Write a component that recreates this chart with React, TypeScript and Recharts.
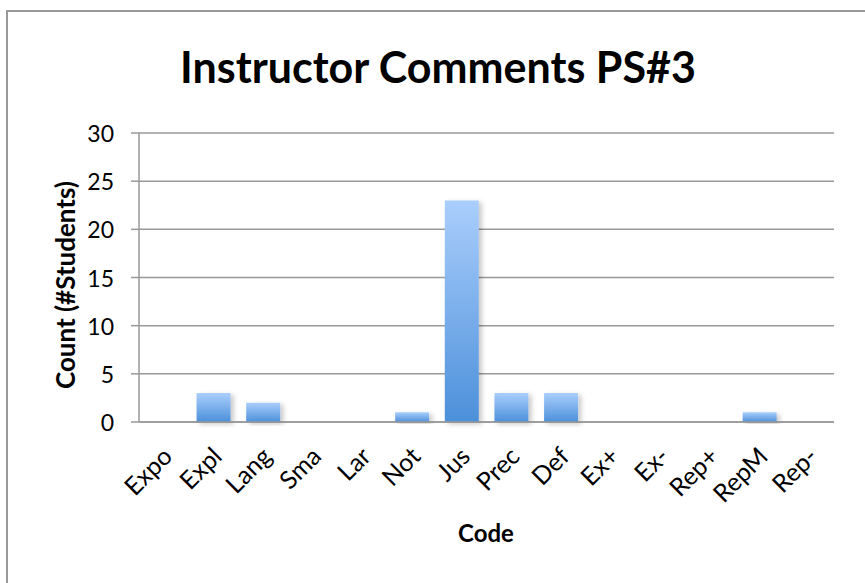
import React from 'react';
import { BarChart, Bar, XAxis, YAxis, CartesianGrid, Label } from 'recharts';

// Comment codes and how many students received each one
const codes = ['Expo', 'Expl', 'Lang', 'Sma', 'Lar', 'Not', 'Jus', 'Prec', 'Def', 'Ex+', 'Ex-', 'Rep+', 'RepM', 'Rep-'];
const counts = [0, 3, 2, 0, 0, 1, 23, 3, 3, 0, 0, 0, 1, 0];
const yTicks = [0, 5, 10, 15, 20, 25, 30];

const data = codes.map((code, i) => ({ code, count: counts[i] }));

const FONT = 'Lato, "Open Sans", sans-serif';
const GRID = '#999999';

// Category labels slanted upward to the right, ending just under each bar
const CodeTick = (props: any) => {
  const { x, y, payload } = props;
  return (
    <g transform={`translate(${x + 10},${y + 36})`}>
      <text transform="rotate(-45)" textAnchor="end" fontSize={25} fontFamily={FONT} fill="#000">
        {payload.value}
      </text>
    </g>
  );
};

// Count labels, right-aligned left of the short tick marks
const CountTick = (props: any) => {
  const { y, payload } = props;
  return (
    <text x={114} y={y} textAnchor="end" dominantBaseline="central" fontSize={23} fontFamily={FONT} fill="#000">
      {payload.value}
    </text>
  );
};

export default function App() {
  return (
    <div style={{ position: 'fixed', left: 0, top: 0, width: 865, height: 583, overflow: 'hidden', background: '#fff' }}>
      <div
        style={{
          position: 'absolute',
          left: 6,
          top: 10,
          width: 900,
          height: 620,
          border: '2px solid #999',
          boxSizing: 'border-box',
        }}
      />
      <svg width={865} height={583} style={{ position: 'absolute', left: 0, top: 0 }}>
        <text x={438} y={83} textAnchor="middle" fontSize={43} fontWeight="bold" fontFamily={FONT} fill="#000">
          Instructor Comments PS#3
        </text>
      </svg>
      <div style={{ position: 'absolute', left: 0, top: 0 }}>
        <BarChart
          width={865}
          height={583}
          data={data}
          margin={{ top: 133, right: 31, bottom: 0, left: 0 }}
          barCategoryGap="16%"
        >
          <defs>
            <linearGradient id="barFill" x1="0" y1="0" x2="0" y2="1">
              <stop offset="0%" stopColor="#AACEFC" />
              <stop offset="100%" stopColor="#4C90DA" />
            </linearGradient>
            <filter id="barShadow" x="-20%" y="-20%" width="150%" height="140%">
              <feDropShadow dx="3" dy="2" stdDeviation="2.5" floodColor="#000" floodOpacity="0.22" />
            </filter>
          </defs>
          <CartesianGrid vertical={false} stroke={GRID} strokeWidth={1.5} />
          <XAxis
            dataKey="code"
            interval={0}
            height={161}
            tickLine={false}
            tickSize={0}
            tickMargin={0}
            axisLine={{ stroke: GRID, strokeWidth: 1.5 }}
            tick={<CodeTick />}
          >
            <Label
              content={() => (
                <text x={486} y={542} textAnchor="middle" fontSize={24} fontWeight="bold" fontFamily={FONT} fill="#000">
                  Code
                </text>
              )}
            />
          </XAxis>
          <YAxis
            width={139}
            domain={[0, 30]}
            ticks={yTicks}
            interval={0}
            tickSize={8}
            axisLine={{ stroke: GRID, strokeWidth: 1.5 }}
            tickLine={{ stroke: GRID, strokeWidth: 1.5 }}
            tick={<CountTick />}
          >
            <Label
              content={() => (
                <text
                  x={65}
                  y={285}
                  transform="rotate(-90, 65, 285)"
                  textAnchor="middle"
                  dominantBaseline="central"
                  fontSize={26}
                  fontWeight="bold"
                  fontFamily={FONT}
                  fill="#000"
                >
                  Count (#Students)
                </text>
              )}
            />
          </YAxis>
          <Bar dataKey="count" fill="url(#barFill)" filter="url(#barShadow)" isAnimationActive={false} />
        </BarChart>
      </div>
    </div>
  );
}
